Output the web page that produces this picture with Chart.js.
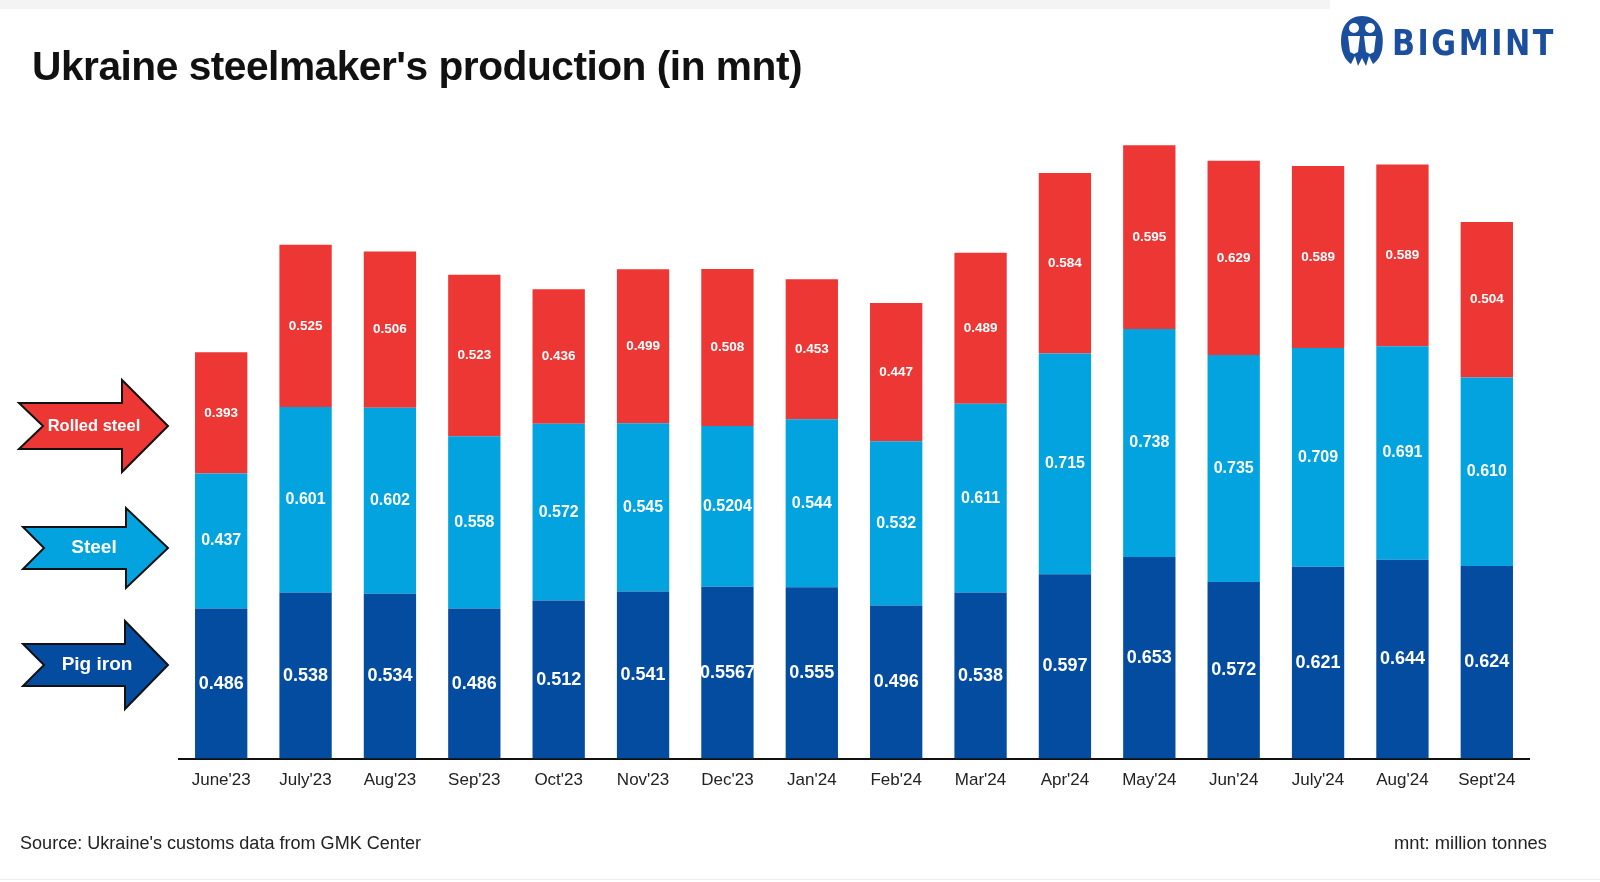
<!DOCTYPE html>
<html>
<head>
<meta charset="utf-8">
<script src="https://cdn.jsdelivr.net/npm/chart.js@4.4.1/dist/chart.umd.min.js"></script>
<style>
  html, body { margin:0; padding:0; background:#fff; width:1600px; height:882px; overflow:hidden; }
  #wrap { position:relative; width:1600px; height:882px; }
  #c { position:absolute; left:0; top:0; }
  .topstrip { position:absolute; left:0; top:0; width:1330px; height:9px; background:#f4f4f4; }
  .fit { position:absolute; white-space:nowrap; transform-origin:0 50%; }
  #title { left:32px; top:44px; font:bold 40px "Liberation Sans", Arial, sans-serif; color:#111; letter-spacing:-0.5px; }
  #source { left:20px; top:833px; font:18px "Liberation Sans", Arial, sans-serif; color:#222; }
  #note { left:1394px; top:833px; font:18px "Liberation Sans", Arial, sans-serif; color:#222; }
  #logo { position:absolute; left:1336px; top:12px; width:230px; height:60px; }
  #logotext { position:absolute; left:1392px; top:22px; font:bold 36px "DejaVu Sans", "Liberation Sans", sans-serif; color:#1b4f9d; letter-spacing:3px; }
  .bottomline { position:absolute; left:0; top:879px; width:1600px; height:1px; background:#eee; }
</style>
</head>
<body>
<div id="wrap">
  <div class="topstrip"></div>
  <canvas id="c" width="1600" height="882"></canvas>
  <div id="title" class="fit" data-w="770">Ukraine steelmaker's production (in mnt)</div>
  <svg id="logo" viewBox="0 0 230 60">
    <path d="M6 38 C2 16 12 4 26 4 C40 4 50 16 46 38 C44 46 40 50 37 52 L33 44 L30 54 L26 46 L22 54 L19 44 L15 52 C12 50 8 46 6 38 Z" fill="#1b4f9d"/>
    <circle cx="18" cy="16" r="5" fill="#fff"/>
    <circle cx="34" cy="16" r="5" fill="#fff"/>
    <path d="M12 24 L24 24 L22 40 L18 42 L14 40 Z" fill="#fff"/>
    <path d="M28 24 L40 24 L38 40 L34 42 L30 40 Z" fill="#fff"/>
  </svg>
  <div id="logotext" class="fit" data-w="164">BIGMINT</div>
  <div id="source" class="fit" data-w="401">Source: Ukraine's customs data from GMK Center</div>
  <div id="note" class="fit" data-w="153">mnt: million tonnes</div>
  <div class="bottomline"></div>
</div>
<script>
const categories = ["June'23","July'23","Aug'23","Sep'23","Oct'23","Nov'23","Dec'23","Jan'24","Feb'24","Mar'24","Apr'24","May'24","Jun'24","July'24","Aug'24","Sept'24"];
const pigIron = [0.486,0.538,0.534,0.486,0.512,0.541,0.5567,0.555,0.496,0.538,0.597,0.653,0.572,0.621,0.644,0.624];
const steel = [0.437,0.601,0.602,0.558,0.572,0.545,0.5204,0.544,0.532,0.611,0.715,0.738,0.735,0.709,0.691,0.610];
const rolledSteel = [0.393,0.525,0.506,0.523,0.436,0.499,0.508,0.453,0.447,0.489,0.584,0.595,0.629,0.589,0.589,0.504];
const seriesNames = ["Pig iron","Steel","Rolled steel"];

// fit text widths
document.querySelectorAll('.fit').forEach(el => {
  const target = parseFloat(el.dataset.w);
  const w = el.getBoundingClientRect().width;
  if (w > 0) el.style.transform = 'scaleX(' + (target / w) + ')';
});

const colors = ["#044ca0", "#02a3df", "#ec3734"];
const labelFonts = [18, 16, 13.5];

function fmt(v) {
  const s = String(v);
  const d = (s.split('.')[1] || '').length;
  return d < 3 ? v.toFixed(3) : s;
}

const valueLabels = {
  id: 'valueLabels',
  afterDatasetsDraw(chart) {
    const ctx = chart.ctx;
    ctx.save();
    ctx.fillStyle = '#fff';
    ctx.textAlign = 'center';
    ctx.textBaseline = 'middle';
    chart.data.datasets.forEach((ds, i) => {
      const meta = chart.getDatasetMeta(i);
      ctx.font = 'bold ' + labelFonts[i] + 'px "Liberation Sans", Arial, sans-serif';
      meta.data.forEach((bar, j) => {
        const y = (bar.y + bar.base) / 2;
        ctx.fillText(fmt(ds.data[j]), bar.x, y);
      });
    });
    ctx.restore();
  }
};

const arrowLegend = {
  id: 'arrowLegend',
  afterDraw(chart) {
    const ctx = chart.ctx;
    // [centerY, headHalf, bodyHalf, left, notch, headStart, tip, textX, fontSize]
    const geo = [
      [665, 44, 21, 23, 44, 125, 168, 97, 19],
      [548, 40, 21, 23, 44, 126, 168, 94, 19],
      [426, 46, 23, 19, 43, 122, 168, 94, 16.5]
    ];
    chart.data.datasets.forEach((ds, i) => {
      const [cy, hh, bh, l, n, hs, tip, tx, fs] = geo[i];
      ctx.save();
      ctx.beginPath();
      ctx.moveTo(l, cy - bh);
      ctx.lineTo(hs, cy - bh);
      ctx.lineTo(hs, cy - hh);
      ctx.lineTo(tip, cy);
      ctx.lineTo(hs, cy + hh);
      ctx.lineTo(hs, cy + bh);
      ctx.lineTo(l, cy + bh);
      ctx.lineTo(n, cy);
      ctx.closePath();
      ctx.fillStyle = ds.backgroundColor;
      ctx.fill();
      ctx.lineWidth = 2;
      ctx.strokeStyle = '#111';
      ctx.lineJoin = 'miter';
      ctx.stroke();
      ctx.fillStyle = '#fff';
      ctx.font = 'bold ' + fs + 'px "Liberation Sans", Arial, sans-serif';
      ctx.textAlign = 'center';
      ctx.textBaseline = 'middle';
      ctx.fillText(ds.label, tx, cy);
      ctx.restore();
    });
  }
};

new Chart(document.getElementById('c'), {
  type: 'bar',
  data: {
    labels: categories,
    datasets: [
      { label: seriesNames[0], data: pigIron, backgroundColor: colors[0] },
      { label: seriesNames[1], data: steel, backgroundColor: colors[1] },
      { label: seriesNames[2], data: rolledSteel, backgroundColor: colors[2] }
    ]
  },
  options: {
    responsive: false,
    animation: false,
    devicePixelRatio: 1,
    layout: { padding: { left: 179, right: 71, top: 141, bottom: 79 } },
    datasets: { bar: { barPercentage: 0.62, categoryPercentage: 1.0, borderWidth: 0 } },
    plugins: { legend: { display: false }, tooltip: { enabled: false }, title: { display: false } },
    scales: {
      x: {
        stacked: true,
        grid: { display: false, drawTicks: false },
        border: { display: true, color: '#111', width: 2 },
        ticks: { color: '#222', font: { size: 17, family: '"Liberation Sans", Arial, sans-serif' }, padding: 12, maxRotation: 0, autoSkip: false }
      },
      y: {
        stacked: true,
        display: false,
        min: 0,
        max: 2.0
      }
    }
  },
  plugins: [valueLabels, arrowLegend]
});
</script>
</body>
</html>
